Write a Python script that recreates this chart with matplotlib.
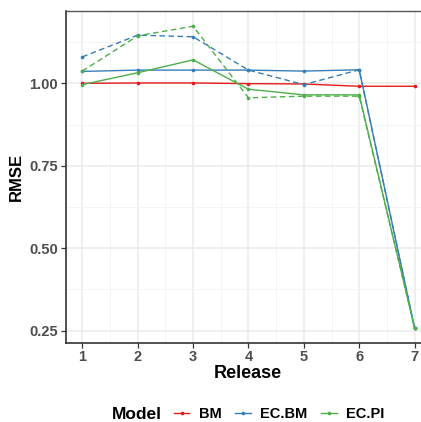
import matplotlib
matplotlib.use("Agg")
import matplotlib.pyplot as plt
from matplotlib.lines import Line2D
from matplotlib.ticker import MultipleLocator

plt.rcParams["font.family"] = ["Liberation Sans", "DejaVu Sans"]

# data
release = [1, 2, 3, 4, 5, 6, 7]
bm = [1.000, 1.001, 1.001, 0.999, 0.998, 0.991, 0.991]
ecbm = [1.036, 1.040, 1.040, 1.040, 1.037, 1.041, 0.258]
ecbm_dash = [1.080, 1.146, 1.141, 1.040, 0.996, 1.041, 0.258]
ecpi = [0.996, 1.032, 1.071, 0.982, 0.965, 0.965, 0.259]
ecpi_dash = [1.037, 1.144, 1.173, 0.956, 0.961, 0.961, 0.259]

models = ["BM", "EC.BM", "EC.PI"]
colors = {"BM": "#E41A1C", "EC.BM": "#377EB8", "EC.PI": "#4DAF4A"}

fig = plt.figure(figsize=(4.21, 4.22), dpi=100)
ax = fig.add_axes([65.7 / 421, 79.3 / 422, (431.2 - 65.7) / 421, (342.7 - 11) / 422])

lw = 1.0
ms = 1.6
ax.plot(release, bm, color=colors["BM"], lw=lw, marker="o", ms=ms, zorder=3)
ax.plot(release, ecbm, color=colors["EC.BM"], lw=lw, marker="o", ms=ms, zorder=3)
ax.plot(release, ecbm_dash, color=colors["EC.BM"], lw=lw, ls=(0, (4, 2.5)), marker="o", ms=ms, zorder=3)
ax.plot(release, ecpi, color=colors["EC.PI"], lw=lw, marker="o", ms=ms, zorder=3)
ax.plot(release, ecpi_dash, color=colors["EC.PI"], lw=lw, ls=(0, (4, 2.5)), marker="o", ms=ms, zorder=3)

ax.set_xlim(0.7, 7.3)
ax.set_ylim(0.2136, 1.2192)
ax.set_xticks(release)
ax.set_yticks([0.25, 0.50, 0.75, 1.00])
ax.set_yticklabels(["0.25", "0.50", "0.75", "1.00"])
ax.xaxis.set_minor_locator(MultipleLocator(0.5))
ax.yaxis.set_minor_locator(MultipleLocator(0.125))

ax.grid(which="major", color="#EBEBEB", lw=1.1, zorder=0)
ax.grid(which="minor", color="#F2F2F2", lw=0.6, zorder=0)
ax.set_axisbelow(True)

ax.tick_params(which="major", length=3.5, width=0.9, color="#333333",
               labelsize=10.5, labelcolor="#4D4D4D", pad=2)
ax.tick_params(which="minor", length=0)
for lab in ax.get_xticklabels() + ax.get_yticklabels():
    lab.set_fontweight("bold")

for s in ["left", "bottom"]:
    ax.spines[s].set_color("#333333")
    ax.spines[s].set_linewidth(1.2)
ax.spines["top"].set_color("#555555")
ax.spines["top"].set_linewidth(1.0)
ax.spines["right"].set_visible(False)

ax.set_xlabel("Release", fontsize=13, fontweight="bold")
ax.set_ylabel("RMSE", fontsize=12, fontweight="bold", labelpad=4)
ax.xaxis.set_label_coords((248 - 65.7) / (431.2 - 65.7), -0.068)

# legend along the bottom
fig.text(112 / 421, 1 - 414.5 / 422, "Model", fontsize=12.5, fontweight="bold",
         ha="left", va="center")
handles = [Line2D([], [], color=colors[m], lw=lw, marker="o", ms=ms) for m in models]
leg = fig.legend(handles, models, ncol=3, frameon=False, loc="center left",
                 bbox_to_anchor=(174 / 421, 1 - 414.5 / 422), prop={"weight": "bold", "size": 10.5},
                 handlelength=1.05, handletextpad=0.65, columnspacing=0.95,
                 numpoints=1, borderpad=0, borderaxespad=0)

fig.savefig("out.png", dpi=100)
